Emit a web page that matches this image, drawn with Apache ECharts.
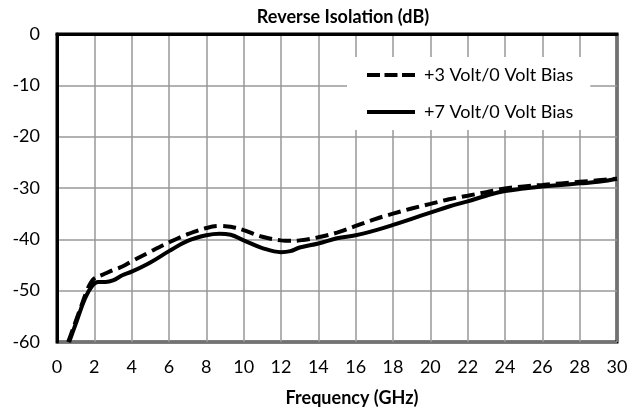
<!DOCTYPE html>
<html>
<head>
<meta charset="utf-8">
<script src="https://cdn.jsdelivr.net/npm/echarts@6/dist/echarts.min.js"></script>
<style>
  html, body { margin: 0; padding: 0; background: #fff; }
  #chart { width: 641px; height: 415px; }
</style>
</head>
<body>
<div id="chart"></div>
<script>
// +3 Volt / 0 Volt bias (dashed)  [GHz, dB]
var bias3 = [
  [0.6, -60], [0.8, -58], [1.0, -56], [1.3, -53], [1.6, -50], [1.8, -48.5],
  [2.0, -47.6], [2.5, -46.8], [3.0, -46], [3.5, -45.3], [4, -44.3], [5, -42.4],
  [6, -40.6], [7, -39], [8, -37.8], [8.7, -37.4], [9.5, -37.7], [10, -38.2],
  [11, -39.5], [12, -40.2], [12.5, -40.3], [13, -40.2], [14, -39.6], [15, -38.7],
  [16, -37.4], [17, -36.1], [18, -35], [19, -34], [20, -33.1], [21, -32.2],
  [22, -31.5], [23, -30.8], [24, -30.1], [25, -29.7], [26, -29.4], [27, -29.1],
  [28, -28.8], [29, -28.5], [30, -28.2]
];
// +7 Volt / 0 Volt bias (solid)
var bias7 = [
  [0.65, -60], [1.0, -56.5], [1.5, -51.5], [1.9, -49], [2.2, -48.3], [2.6, -48.3],
  [3.0, -48], [3.5, -47], [4, -46.3], [5, -44.5], [6, -42.3], [7, -40.3],
  [8, -39.2], [8.7, -38.9], [9.3, -39.1], [10, -40.2], [11, -41.7], [12, -42.5],
  [12.5, -42.3], [13, -41.6], [14, -40.8], [15, -39.8], [16, -39.2], [17, -38.3],
  [18, -37.2], [19, -36], [20, -34.8], [21, -33.6], [22, -32.6], [23, -31.5],
  [24, -30.6], [25, -30.1], [26, -29.7], [27, -29.4], [28, -29.1], [29, -28.8],
  [30, -28.2]
];
var seriesNames = ['+3 Volt/0 Volt Bias', '+7 Volt/0 Volt Bias'];

var font = 'Lato, "Open Sans", sans-serif';
var dashIcon = 'path://M0,0h13v4h-13z M17.5,0h13v4h-13z M35,0h13v4h-13z';
var solidIcon = 'path://M0,0h48v4h-48z';

var chart = echarts.init(document.getElementById('chart'));
chart.setOption({
  animation: false,
  textStyle: { fontFamily: font },
  grid: {
    left: 57, right: 24, top: 34, bottom: 73,
    show: true, borderColor: '#000', borderWidth: 3
  },
  graphic: [
    { type: 'text', x: 343, y: 17, style: { text: 'Reverse Isolation (dB)', font: 'bold 18px ' + font, fill: '#000', textAlign: 'center', textVerticalAlign: 'middle' } },
    { type: 'text', x: 352, y: 398, style: { text: 'Frequency (GHz)', font: 'bold 18px ' + font, fill: '#000', textAlign: 'center', textVerticalAlign: 'middle' } }
  ],
  legend: {
    data: [
      { name: seriesNames[0], icon: dashIcon },
      { name: seriesNames[1], icon: solidIcon }
    ],
    orient: 'vertical',
    left: 347, top: 57,
    backgroundColor: '#fff',
    padding: [9, 17, 9, 20],
    itemWidth: 48, itemHeight: 4, itemGap: 19,
    itemStyle: { color: '#000', borderWidth: 0 },
    textStyle: { fontSize: 18, color: '#000', fontFamily: font, padding: [0, 0, 0, 4] }
  },
  xAxis: {
    type: 'value', min: 0, max: 30, interval: 2,
    axisLine: { show: true, lineStyle: { color: '#000', width: 3 } },
    axisTick: { show: false },
    axisLabel: { color: '#000', fontSize: 18, margin: 16, fontFamily: font },
    splitLine: { show: true, lineStyle: { color: '#999', width: 1.5 } }
  },
  yAxis: {
    type: 'value', min: -60, max: 0, interval: 10,
    axisLine: { show: true, lineStyle: { color: '#000', width: 3 } },
    axisTick: { show: false },
    axisLabel: { color: '#000', fontSize: 18, margin: 17, fontFamily: font },
    splitLine: { show: true, lineStyle: { color: '#999', width: 1.5 } }
  },
  series: [
    {
      name: seriesNames[0], type: 'line', data: bias3, smooth: 0.4,
      symbol: 'none', z: 3,
      lineStyle: { color: '#000', width: 4, type: [13, 6] },
      itemStyle: { color: '#000' }
    },
    {
      name: seriesNames[1], type: 'line', data: bias7, smooth: 0.4,
      symbol: 'none', z: 4,
      lineStyle: { color: '#000', width: 4 },
      itemStyle: { color: '#000' }
    }
  ]
});
</script>
</body>
</html>
